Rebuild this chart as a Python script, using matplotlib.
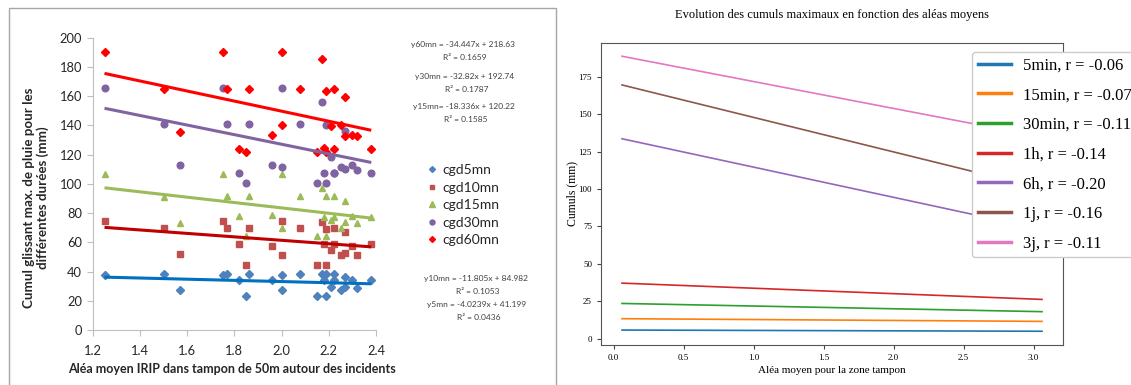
import numpy as np
import matplotlib.pyplot as plt
from matplotlib.patches import Rectangle

# Panneau gauche : cumuls glissants par incident
alea_irip = [1.25, 1.50, 1.57, 1.75, 1.77, 1.82, 1.86, 1.85, 1.96, 2.00, 2.00, 2.08, 2.15,
             2.17, 2.18, 2.19, 2.19, 2.21, 2.22, 2.22, 2.25, 2.27, 2.27, 2.30, 2.32, 2.38]
cgd5mn = [37.6, 38.1, 27.4, 37.6, 38.1, 34.2, 38.1, 23.3, 34.2, 37.6, 27.2, 38.1, 23.3,
          38.1, 34.2, 38.1, 23.3, 29.2, 38.1, 34.2, 27.2, 36.5, 29.6, 34.2, 28.5, 34.2]
cgd10mn = [74.8, 69.8, 52.2, 74.8, 69.8, 59.1, 69.8, 44.3, 57.2, 74.8, 51.3, 69.8, 44.3,
           74.1, 59.1, 69.1, 44.3, 55.0, 69.8, 59.1, 51.3, 67.1, 52.5, 57.2, 51.1, 59.1]
cgd15mn = [106.7, 91.2, 73.0, 106.7, 92.0, 78.0, 92.0, 64.5, 78.5, 106.7, 70.0, 92.0, 64.5,
           97.0, 77.5, 92.0, 64.5, 75.0, 92.0, 77.0, 70.0, 88.3, 73.7, 78.3, 73.4, 77.5]
cgd30mn = [165.8, 140.7, 113.1, 165.8, 140.7, 107.2, 140.7, 100.6, 113.1, 165.8, 111.5, 140.7, 100.6,
           156.2, 107.2, 140.3, 100.6, 118.6, 107.2, 107.2, 111.5, 136.4, 110.2, 113.1, 109.5, 107.2]
cgd60mn = [190.2, 164.7, 135.3, 190.2, 164.7, 124.1, 164.7, 121.6, 133.6, 190.2, 140.3, 164.7, 121.6,
           185.6, 124.3, 163.7, 122.0, 139.8, 164.7, 124.1, 140.3, 159.6, 132.7, 133.6, 132.4, 123.8]

series_names = ['cgd5mn', 'cgd10mn', 'cgd15mn', 'cgd30mn', 'cgd60mn']
pentes = [-4.0239, -11.805, -18.336, -32.82, -34.447]
ordonnees = [41.199, 84.982, 120.22, 192.74, 218.63]
r2 = [0.0436, 0.1053, 0.1585, 0.1787, 0.1659]
equations = ['y5mn = -4.0239x + 41.199', 'y10mn = -11.805x + 84.982', 'y15mn= -18.336x + 120.22',
             'y30mn = -32.82x + 192.74', 'y60mn = -34.447x + 218.63']

# Panneau droit : droites de régression
durees = ['5min', '15min', '30min', '1h', '6h', '1j', '3j']
r_values = [-0.06, -0.07, -0.11, -0.14, -0.20, -0.16, -0.11]
alea_zone = [0.06, 3.06]
cumul_debut = [5.7, 13.3, 23.5, 37.1, 133.7, 169.7, 188.9]
cumul_fin = [4.9, 11.5, 18.0, 26.2, 73.1, 100.4, 134.9]

W, H = 1131, 385
fig = plt.figure(figsize=(W / 100, H / 100), dpi=100)

# ---------------- gauche (style Excel)
sans = 'Lato'
ax = fig.add_axes([92.7 / W, 55 / H, 283.3 / W, 292.3 / H])
markers = ['D', 's', '^', 'o', 'D']
mcolors = ['#4F81BD', '#C0504D', '#9BBB59', '#8064A2', '#FF0000']
msizes = [4.0, 4.8, 5.0, 4.8, 4.0]
lcolors = ['#0070C0', '#C00000', '#9BBB59', '#8064A2', '#FF0000']
values = [cgd5mn, cgd10mn, cgd15mn, cgd30mn, cgd60mn]

xs = np.array(alea_irip)
for i in range(5):
    ax.plot(xs, values[i], linestyle='none', marker=markers[i], ms=msizes[i],
            color=mcolors[i], mec=mcolors[i], label=series_names[i], zorder=3)
xfit = np.array([xs.min(), xs.max()])
for i in range(5):
    ax.plot(xfit, pentes[i] * xfit + ordonnees[i], color=lcolors[i], lw=2.2,
            solid_capstyle='butt', zorder=4)

ax.set_xlim(1.2, 2.4)
ax.set_ylim(0, 200)
ax.set_xticks(np.arange(1.2, 2.41, 0.2))
ax.set_xticklabels([f'{t:.1f}' for t in np.arange(1.2, 2.41, 0.2)])
ax.set_yticks(np.arange(0, 201, 20))
for s in ['top', 'right']:
    ax.spines[s].set_visible(False)
for s in ['left', 'bottom']:
    ax.spines[s].set_color('#BFBFBF')
ax.tick_params(colors='#BFBFBF', length=4, labelcolor='#262626', labelsize=9.3)
ax.tick_params(axis='x', pad=7)
for lab in ax.get_xticklabels() + ax.get_yticklabels():
    lab.set_family(sans)

fig.text(36 / W, 1 - 198 / H, 'Cumul glissant max. de pluie pour les\ndifférentes durées (mm)',
         rotation=90, ha='center', va='center', fontsize=9.6, fontweight='bold',
         family=sans, color='#262626', linespacing=1.05)
fig.text(232 / W, 1 - 369 / H, 'Aléa moyen IRIP dans tampon de 50m autour des incidents',
         ha='center', va='center', fontsize=9.0, fontweight='bold', family=sans, color='#262626')

leg = ax.legend(loc='upper left', bbox_to_anchor=(426 / W, 1 - 164 / H),
                bbox_transform=fig.transFigure, frameon=False, borderpad=0, borderaxespad=0,
                handlelength=0.8, handletextpad=0.4, labelspacing=0.4, markerscale=0.75,
                prop={'family': sans, 'size': 10})
for t in leg.get_texts():
    t.set_color('#262626')

# equations des courbes de tendance
eq_pos = {4: (463, 45), 3: (465, 76), 2: (464, 107), 1: (476, 278), 0: (477, 305)}
for i, (px, py) in eq_pos.items():
    fig.text(px / W, 1 - py / H, equations[i], ha='center', va='center',
             fontsize=6, family=sans, color='#404040')
    fig.text((px + 2) / W, 1 - (py + 13) / H, f'R² = {r2[i]:.4f}', ha='center', va='center',
             fontsize=6, family=sans, color='#404040')

fig.add_artist(Rectangle((9 / W, -0.05), (556 - 9) / W, 1.05 - 8 / H,
                         transform=fig.transFigure, fill=False, ec='#A6A6A6', lw=1))

# ---------------- droite (style matplotlib, police Times)
serif = 'Liberation Serif'
ax2 = fig.add_axes([601 / W, 40 / H, 462 / W, 302.5 / H])
for i in range(len(durees)):
    ax2.plot(alea_zone, [cumul_debut[i], cumul_fin[i]], color=f'C{i}', lw=1.2,
             label=f'{durees[i]}, r = {r_values[i]:.2f}')
ax2.set_yticks(np.arange(0, 176, 25))
ax2.set_xticks(np.arange(0, 3.01, 0.5))
ax2.tick_params(labelsize=6.5, length=3, color='#444444')
for lab in ax2.get_xticklabels() + ax2.get_yticklabels():
    lab.set_family(serif)
for s in ax2.spines.values():
    s.set_color('#555555')
ax2.set_title('Evolution des cumuls maximaux en fonction des aléas moyens',
              fontsize=9, family=serif, pad=17.5)
ax2.set_xlabel('Aléa moyen pour la zone tampon', fontsize=8, family=serif, labelpad=3)
ax2.set_ylabel('Cumuls (mm)', fontsize=8.5, family=serif, labelpad=0)

leg2 = ax2.legend(loc='upper left', bbox_to_anchor=(971.7 / W, 1 - 51.7 / H),
                  bbox_transform=fig.transFigure, borderaxespad=0, borderpad=0.35,
                  handlelength=2.0, handletextpad=0.7, labelspacing=0.82,
                  framealpha=1, edgecolor='#CCCCCC', prop={'family': serif, 'size': 12})
for h in leg2.legend_handles:
    h.set_linewidth(2.5)

fig.savefig('out.png', dpi=100)
